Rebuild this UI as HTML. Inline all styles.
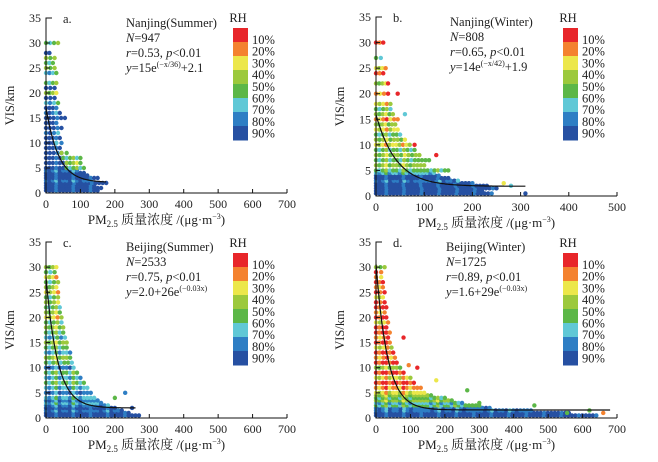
<!DOCTYPE html>
<html><head><meta charset="utf-8"><style>
html,body{margin:0;padding:0;background:#fff;}
svg{display:block;font-family:"Liberation Serif","Noto Serif CJK SC",serif;}
</style></head><body>
<svg id="chart" width="658" height="462" viewBox="0 0 658 462"></svg>
<script>
// ---- data ----
const rhLabels = ["10%","20%","30%","40%","50%","60%","70%","80%","90%"];
const rhColors = ["#e8262a","#f4822f","#ece74b","#9cc93c","#5cb747","#60c8d6","#2e7ec4","#2650a2"];
const xTicksA = [0,100,200,300,400,500,600,700];
const xTicksB = [0,100,200,300,400,500];
const yTicks = [0,5,10,15,20,25,30,35];
// bands: [VIS km, pm start, pm end, RH class]
const bandsA = [[0.5,0,150,7],[1,0,160,7],[1.5,0,140,7],[2,0,175,7],[2.5,0,130,6],[3,0,150,7],[3.5,0,120,7],[4,0,110,7],[4.5,0,90,6],[5,0,60,7],[5,60,110,4],[6,0,60,7],[6,60,100,3],[7,0,50,7],[7,50,100,4],[8,0,45,7],[8,45,60,3],[9,0,40,7],[10,0,30,7],[10,30,45,5],[11,0,40,7],[12,0,35,6],[13,0,45,7],[14,0,30,7],[15,0,55,7],[16,0,40,6],[17,0,30,7],[18,0,35,5],[19,0,25,7],[20,0,30,3],[21,0,25,7],[22,0,30,4],[24,0,30,5],[25,0,25,3],[26,0,20,4],[27,0,25,3],[28,0,10,7],[30,0,35,4]];
const bandsB = [[0.5,0,240,7],[1,0,220,7],[1.5,0,250,7],[2,0,230,7],[2.5,0,200,7],[3,0,170,6],[3.5,0,150,7],[4,0,130,7],[4.5,0,120,5],[5,0,150,4],[6,0,100,3],[7,0,110,4],[8,0,90,3],[9,0,80,4],[10,0,70,2],[11,0,60,3],[12,0,50,4],[13,0,45,2],[14,0,40,3],[15,0,45,1],[16,0,35,3],[17,0,30,4],[18,0,30,2],[20,0,25,1],[22,0,20,3],[24,0,15,0],[25,0,20,2],[27,0,10,4],[30,0,15,0]];
const pointsB = [[310,0.5,7],[280,2,5],[265,2.5,2],[45,20,0],[60,16,5],[80,10,0],[125,8,0],[25,22,0]];
const bandsC = [[0.5,0,270,7],[1,0,240,7],[1.5,0,220,6],[2,0,200,7],[2.5,0,180,6],[3,0,160,5],[3.5,0,150,6],[4,0,140,5],[5,0,130,6],[6,0,120,5],[7,0,110,4],[8,0,100,5],[9,0,90,4],[10,0,80,6],[11,0,75,4],[12,0,70,3],[13,0,70,5],[14,0,60,4],[15,0,60,3],[16,0,55,5],[17,0,50,4],[18,0,50,3],[19,0,45,4],[20,0,45,2],[21,0,40,3],[22,0,40,4],[23,0,35,3],[24,0,35,4],[25,0,35,2],[26,0,30,3],[27,0,35,4],[28,0,30,2],[29,0,25,4],[30,0,30,3]];
const pointsC = [[230,5,6],[200,4,4],[250,2,7]];
const bandsD = [[0.5,0,640,7],[1,0,560,7],[1.5,0,450,6],[2,0,330,6],[2.5,0,300,4],[3,0,250,5],[3.5,0,220,3],[4,0,200,4],[4.5,0,160,3],[5,0,140,2],[6,0,130,1],[7,0,110,0],[8,0,100,2],[9,0,80,0],[10,0,70,3],[11,0,60,0],[12,0,55,1],[13,0,50,0],[14,0,45,2],[15,0,40,0],[16,0,35,1],[17,0,40,0],[18,0,30,0],[19,0,35,2],[20,0,30,0],[21,0,25,1],[22,0,30,0],[23,0,25,0],[24,0,20,2],[25,0,25,0],[26,0,20,1],[27,0,20,0],[28,0,15,1],[29,0,15,0],[30,0,25,3]];
const pointsD = [[660,1,1],[620,1.5,4],[460,2.5,4],[265,5.5,4],[175,7.5,2],[80,16,0],[120,10,0],[95,10.5,1],[300,3,4],[555,1,4]];
// fit params: y = a*exp(-x/k) + c  (k = 1/rate)
const fitA = {a:15,k:36,c:2.1,xmax:175};
const fitB = {a:14,k:42,c:1.9,xmax:310};
const fitC = {a:26,k:33.3,c:2.0,xmax:260};
const fitD = {a:29,k:33.3,c:1.6,xmax:680};

const panels = [
 {id:"a",letter:"a.",title:"Nanjing(Summer)",n:"947",r:"0.53",eq:["15e","(−x/36)","+2.1"],x0:46,x1:287,xmax:700,y0:193,y35:18,ticks:xTicksA,bands:bandsA,points:[],fit:fitA,dx:0,dy:0},
 {id:"b",letter:"b.",title:"Nanjing(Winter)",n:"808",r:"0.65",eq:["14e","(−x/42)","+1.9"],x0:376,x1:617,xmax:500,y0:196,y35:17,ticks:xTicksB,bands:bandsB,points:pointsB,fit:fitB,dx:330,dy:0},
 {id:"c",letter:"c.",title:"Beijing(Summer)",n:"2533",r:"0.75",eq:["2.0+26e","(−0.03x)",""],x0:46,x1:287,xmax:700,y0:418,y35:242,ticks:xTicksA,bands:bandsC,points:pointsC,fit:fitC,dx:0,dy:225},
 {id:"d",letter:"d.",title:"Beijing(Winter)",n:"1725",r:"0.89",eq:["1.6+29e","(−0.03x)",""],x0:376,x1:617,xmax:700,y0:418,y35:242,ticks:xTicksA,bands:bandsD,points:pointsD,fit:fitD,dx:330,dy:225}
];
const NS="http://www.w3.org/2000/svg";
const svg=document.getElementById('chart');
function mk(tag,attrs,parent){const e=document.createElementNS(NS,tag);for(const k in attrs)e.setAttribute(k,attrs[k]);(parent||svg).appendChild(e);return e;}
function txt(s,x,y,size,anchor,parent){const t=mk('text',{x:x,y:y,'font-size':size,'text-anchor':anchor||'start',fill:'#222'},parent);t.textContent=s;return t;}

panels.forEach(p=>{
  const g=mk('g',{});
  
  
  const X=v=>p.x0+(p.x1-p.x0)*v/p.xmax;
  const Y=v=>p.y0-(p.y0-p.y35)*v/35;
  const dg=mk('g',{},g);
  
  
  p.bands.forEach(b=>{
    const xs=X(b[1]),xe=X(b[2]);const n=Math.max(1,Math.round((xe-xs)/3.5));
    for(let i=0;i<=n;i++){
      let c=b[3]; if(i%3===1)c=Math.min(7,c+1); if(i%5===3)c=Math.max(0,c-1);
      const d=mk('circle',{cx:xs+(xe-xs)*i/n,cy:Y(b[0]),r:2.2,fill:rhColors[c]},dg);
      
      
    }
  });
  p.points.forEach(q=>{
    const d=mk('circle',{cx:X(q[0]),cy:Y(q[1]),r:2.2,fill:rhColors[q[2]]},dg);
    
    
  });
  let dstr='';
  for(let x=0;x<=p.fit.xmax;x+=2){const y=p.fit.a*Math.exp(-x/p.fit.k)+p.fit.c;if(y>35)continue;dstr+=(dstr?'L':'M')+X(x).toFixed(1)+','+Y(y).toFixed(1);}
  const fc=mk('path',{d:dstr,fill:'none',stroke:'#111','stroke-width':1.2},g);
  
  
  const ax=mk('path',{d:`M${p.x0+6},${p.y35}H${p.x0}V${p.y0}H${p.x1}`,fill:'none',stroke:'#111','stroke-width':1},g);
  
  
  p.ticks.forEach(t=>{
    mk('line',{x1:X(t),x2:X(t),y1:p.y0,y2:p.y0-4,stroke:'#111'},g);
    const l=txt(String(t),X(t),p.y0+15,12,'middle',g);
    
    
  });
  yTicks.forEach(t=>{
    mk('line',{x1:p.x0,x2:p.x0+4,y1:Y(t),y2:Y(t),stroke:'#111'},g);
    const l=txt(String(t),p.x0-5,Y(t)+4,12,'end',g);
    
    
  });
  const yt=txt('VIS/km',0,0,12.5,'middle',g);
  yt.setAttribute('transform',`translate(${14+p.dx},${(p.y0+p.y35)/2}) rotate(-90)`);
  
  
  const xt=mk('text',{x:(p.x0+p.x1)/2-10,y:p.y0+31,'font-size':13,'text-anchor':'middle',fill:'#222'},g);
  xt.innerHTML='PM<tspan font-size="9" dy="3">2.5</tspan><tspan dy="-3"> 质量浓度 /(μg·m</tspan><tspan font-size="8" dy="-5">−3</tspan><tspan dy="5">)</tspan>';
  
  
  const L=txt(p.letter,p.x0+17,p.y35+5,12.5,'start',g);
  
  
  const ix=p.x0+80+(p.id==='b'?-6:0)+(p.id==='d'?-10:0), iy=p.y35+9;
  const an=mk('g',{'font-size':12.5},g);
  
  
  txt(p.title,ix,iy,12.5,'start',an);
  mk('text',{x:ix,y:iy+15,'font-size':12.5,fill:'#222'},an).innerHTML='<tspan font-style="italic">N</tspan>='+p.n;
  mk('text',{x:ix,y:iy+30,'font-size':12.5,fill:'#222'},an).innerHTML='<tspan font-style="italic">r</tspan>='+p.r+', <tspan font-style="italic">p</tspan>&lt;0.01';
  mk('text',{x:ix,y:iy+45,'font-size':12.5,fill:'#222'},an).innerHTML='<tspan font-style="italic">y</tspan>='+p.eq[0]+'<tspan font-size="8" dy="-5">'+p.eq[1]+'</tspan><tspan dy="5">'+p.eq[2]+'</tspan>';
  const lg=mk('g',{},g);
  
  
  const bx=233+p.dx, by=28+p.dy;
  txt('RH',bx+5,by-6,12.5,'middle',lg);
  rhColors.forEach((c,i)=>{const r=mk('rect',{x:bx,y:by+i*14,width:15,height:14.5,fill:c},lg);
    
    });
  rhLabels.forEach((s,i)=>{const l=txt(s,bx+19,by+16+i*11.7,12.5,'start',lg);
    
    });
});
</script>
</body></html>
